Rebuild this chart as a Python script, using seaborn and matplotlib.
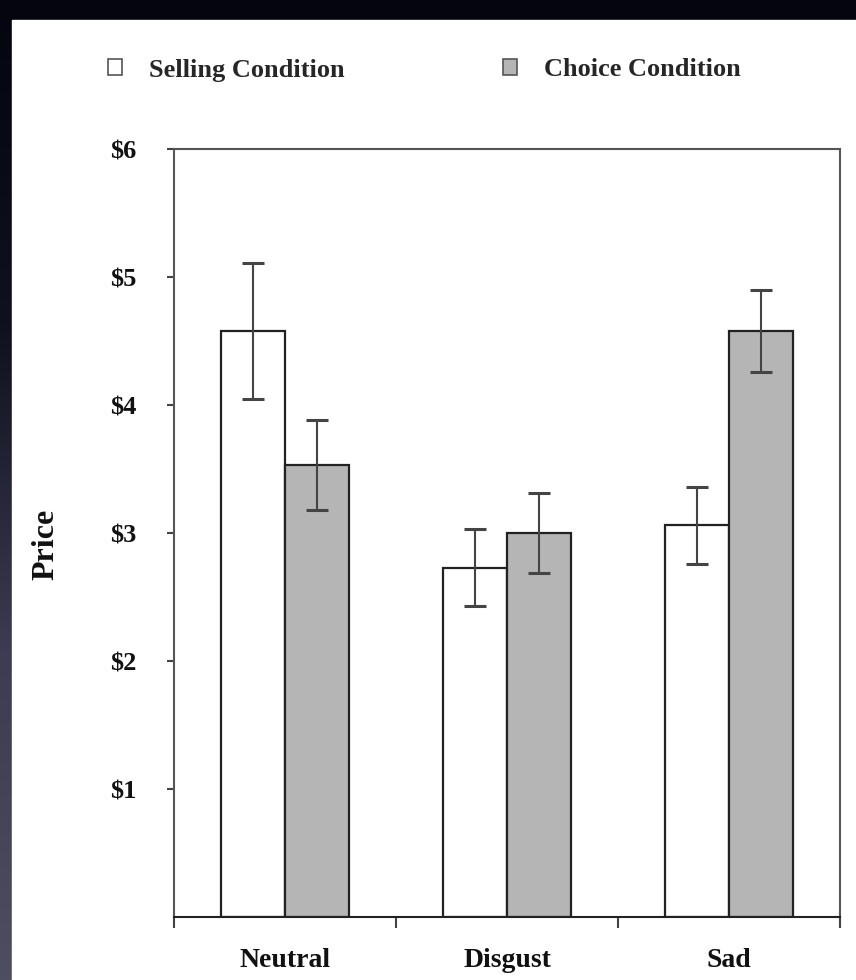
import numpy as np
import pandas as pd
import seaborn as sns
import matplotlib.pyplot as plt
from matplotlib.colors import LinearSegmentedColormap
from matplotlib.patches import Patch, Rectangle

# values
emotions = ["Neutral", "Disgust", "Sad"]
conditions = ["Selling Condition", "Choice Condition"]
selling_price = [4.58, 2.73, 3.06]
selling_err = [0.53, 0.30, 0.30]
choice_price = [3.53, 3.00, 4.58]
choice_err = [0.35, 0.31, 0.32]
y_ticks = [1, 2, 3, 4, 5, 6]
y_tick_labels = ["$1", "$2", "$3", "$4", "$5", "$6"]

df = pd.DataFrame({
    "Emotion": emotions * 2,
    "Condition": [conditions[0]] * 3 + [conditions[1]] * 3,
    "Price": selling_price + choice_price,
    "Err": selling_err + choice_err,
})

sns.set_theme(style="white")
plt.rcParams['font.family'] = ['Liberation Serif', 'DejaVu Serif']

fig = plt.figure(figsize=(8.56, 9.8), dpi=100)

# dark slide background with a slight gradient on the left, white panel on top
bg = fig.add_axes([0, 0, 1, 1], zorder=-10)
grad = np.linspace(0, 1, 256).reshape(-1, 1)
bg.imshow(grad, aspect="auto", cmap=LinearSegmentedColormap.from_list(
    "bg", ["#050510", "#10101f", "#3c3c52", "#4e4e60"]), extent=[0, 1, 0, 1], origin="upper")
bg.add_patch(Rectangle((12 / 856, 0), 1, 1 - 20 / 980, color="white", transform=bg.transAxes))
bg.set_xlim(0, 1)
bg.set_ylim(0, 1)
bg.axis("off")

ax = fig.add_axes([174 / 856, 63 / 980, 666 / 856, 768 / 980])
palette = {conditions[0]: "white", conditions[1]: "#b5b5b5"}
sns.barplot(data=df, x="Emotion", y="Price", hue="Condition", order=emotions,
            hue_order=conditions, palette=palette, width=0.58, edgecolor="#222222",
            linewidth=1.6, errorbar=None, legend=False, ax=ax)

# error bars at the bar centres
for cont, cond in zip(ax.containers, conditions):
    sub = df[df["Condition"] == cond].set_index("Emotion").loc[emotions]
    xs = [b.get_x() + b.get_width() / 2 for b in cont]
    ax.errorbar(xs, sub["Price"], yerr=sub["Err"], fmt="none", ecolor="#444444",
                elinewidth=1.5, capsize=8, capthick=2.2, zorder=5)

ax.set_xlim(-0.5, 2.5)
ax.set_ylim(0, 6)
ax.set_yticks(y_ticks)
ax.set_yticklabels(y_tick_labels, fontsize=19, fontweight="bold", color="#111111")
ax.set_xticks(range(len(emotions)))
ax.set_xticklabels(emotions, fontsize=20, fontweight="bold", color="#111111")
ax.set_xticks([-0.5, 0.5, 1.5, 2.5], minor=True)
ax.tick_params(axis="x", which="major", length=0, pad=22)
ax.tick_params(axis="x", which="minor", length=8, width=1.5, color="#444444", direction="out", bottom=True)
ax.tick_params(axis="y", length=5, width=1.5, color="#444444", direction="out", left=True, pad=22)
for s in ax.spines.values():
    s.set_visible(True)
    s.set_color("#555555")
    s.set_linewidth(1.5)
ax.spines["bottom"].set_color("#222222")
ax.set_xlabel("")
ax.set_ylabel("Price", fontsize=23, fontweight="bold", color="#111111")
ax.yaxis.set_label_coords(-0.17, 0.485)
ax.set_facecolor("white")

handles = [Patch(facecolor=palette[c], edgecolor="#555555", linewidth=1.2, label=c) for c in conditions]
fig.legend(handles=handles, loc="center left", bbox_to_anchor=(84 / 856, 1 - 70 / 980), ncol=2,
           frameon=False, handlelength=0.55, handleheight=0.55, columnspacing=6.0,
           handletextpad=1.0, prop={"family": "Liberation Serif", "weight": "bold", "size": 19})

fig.savefig("out.png", dpi=100)
